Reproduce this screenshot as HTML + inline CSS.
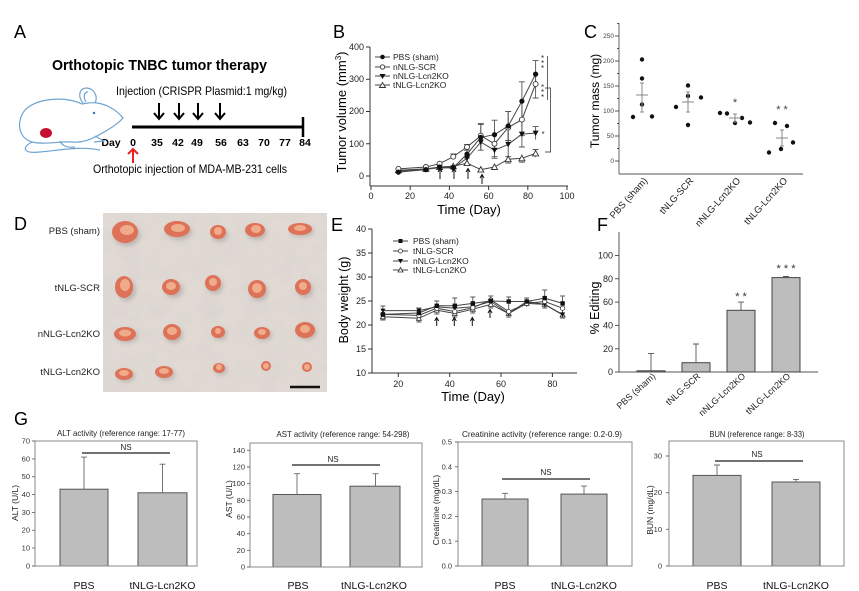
<!DOCTYPE html>
<html><head><meta charset="utf-8">
<style>
html,body{margin:0;padding:0;background:#fff;}
svg{display:block;font-family:"Liberation Sans",Arial,sans-serif;}
</style></head>
<body>
<svg width="859" height="591" viewBox="0 0 859 591" xmlns="http://www.w3.org/2000/svg">
<defs>
  <marker id="bP" markerUnits="userSpaceOnUse" markerWidth="8" markerHeight="8" refX="4" refY="4" overflow="visible"><circle cx="4" cy="4" r="2.6" fill="#111"/></marker>
  <marker id="bS" markerUnits="userSpaceOnUse" markerWidth="8" markerHeight="8" refX="4" refY="4" overflow="visible"><circle cx="4" cy="4" r="2.5" fill="#fff" stroke="#333" stroke-width="0.9"/></marker>
  <marker id="bN" markerUnits="userSpaceOnUse" markerWidth="8" markerHeight="8" refX="4" refY="4" overflow="visible"><polygon points="1,1.5 7,1.5 4,7" fill="#111"/></marker>
  <marker id="bT" markerUnits="userSpaceOnUse" markerWidth="8" markerHeight="8" refX="4" refY="4" overflow="visible"><polygon points="1,6.5 7,6.5 4,1" fill="#fff" stroke="#333" stroke-width="0.9"/></marker>
  <marker id="eP" markerUnits="userSpaceOnUse" markerWidth="6" markerHeight="6" refX="3" refY="3" overflow="visible"><rect x="0.8" y="0.8" width="4.4" height="4.4" fill="#111"/></marker>
  <marker id="eS" markerUnits="userSpaceOnUse" markerWidth="6" markerHeight="6" refX="3" refY="3" overflow="visible"><circle cx="3" cy="3" r="2.2" fill="#fff" stroke="#333" stroke-width="0.8"/></marker>
  <marker id="eN" markerUnits="userSpaceOnUse" markerWidth="6" markerHeight="6" refX="3" refY="3" overflow="visible"><polygon points="0.5,1 5.5,1 3,5.5" fill="#111"/></marker>
  <marker id="eT" markerUnits="userSpaceOnUse" markerWidth="6" markerHeight="6" refX="3" refY="3" overflow="visible"><polygon points="0.5,5 5.5,5 3,0.5" fill="#fff" stroke="#333" stroke-width="0.8"/></marker>
  <filter id="tex" x="0" y="0" width="100%" height="100%">
    <feTurbulence type="fractalNoise" baseFrequency="0.05" numOctaves="3" seed="4"/>
    <feColorMatrix type="matrix" values="0 0 0 0 0.62  0 0 0 0 0.59  0 0 0 0 0.57  0 0 0 1.4 -0.5"/>
  </filter>
  <filter id="blur2"><feGaussianBlur stdDeviation="2"/></filter>
</defs>

<!-- ============ PANEL A ============ -->
<text x="14" y="38" font-size="18">A</text>
<text x="52" y="70" font-size="15" font-weight="bold" textLength="215" lengthAdjust="spacingAndGlyphs">Orthotopic TNBC tumor therapy</text>
<text x="116" y="95" font-size="12" textLength="171" lengthAdjust="spacingAndGlyphs">Injection (CRISPR Plasmid:1 mg/kg)</text>
<g stroke="#000" stroke-width="2" fill="none">
  <line x1="159" y1="103" x2="159" y2="119"/><polyline points="154,113 159,119 164,113"/>
  <line x1="179" y1="103" x2="179" y2="119"/><polyline points="174,113 179,119 184,113"/>
  <line x1="198" y1="103" x2="198" y2="119"/><polyline points="193,113 198,119 203,113"/>
  <line x1="220" y1="103" x2="220" y2="119"/><polyline points="215,113 220,119 225,113"/>
</g>
<line x1="132" y1="127" x2="304" y2="127" stroke="#000" stroke-width="3"/>
<line x1="303" y1="117" x2="303" y2="137" stroke="#000" stroke-width="2.5"/>
<g font-size="10.5" font-weight="bold" text-anchor="middle">
  <text x="111" y="146">Day</text>
  <text x="133" y="146">0</text><text x="157" y="146">35</text><text x="178" y="146">42</text>
  <text x="197" y="146">49</text><text x="221" y="146">56</text><text x="243" y="146">63</text>
  <text x="264" y="146">70</text><text x="285" y="146">77</text><text x="305" y="146">84</text>
</g>
<g stroke="#e8231f" stroke-width="2" fill="none">
  <line x1="133" y1="163" x2="133" y2="149"/><polyline points="128,154 133,149 138,154"/>
</g>
<text x="93" y="173" font-size="12" textLength="194" lengthAdjust="spacingAndGlyphs">Orthotopic injection of MDA-MB-231 cells</text>
<!-- mouse -->
<g fill="none" stroke="#6fa4d2" stroke-width="1.2" stroke-linejoin="round">
  <path d="M123,118 C117,110 106,104 97,103 C92,102 87,103 82,104 C65,96 37,98 25,110 C16,121 18,138 32,142 C45,145 62,141 72,142 C82,143 90,140 97,136 C106,131 117,125 123,118 Z"/>
  <path d="M84,104 C77,97 79,88 87,88 C95,89 98,97 95,103"/>
  <path d="M86,102 C83,97 84,92 88,92"/>
  <path d="M32,142 C22,147 22,154 40,152 C62,150 80,146 100,150"/>
  <path d="M95,136 L104,141 L94,142"/>
  <path d="M60,141 C62,146 68,148 75,147"/>
</g>
<circle cx="94" cy="113" r="1.2" fill="#3a6fb0"/>
<ellipse cx="46" cy="133" rx="6" ry="5" fill="#c8102e"/>

<!-- ============ PANEL B ============ -->
<text x="333" y="38" font-size="18">B</text>
<g stroke="#333" stroke-width="1" fill="none">
  <line x1="370" y1="47" x2="370" y2="186"/>
  <line x1="370" y1="186" x2="568" y2="186"/>
  <path d="M366,47H370M366,79.3H370M366,111.5H370M366,143.8H370M366,176H370"/>
  <path d="M371,186V190M410.2,186V190M449.4,186V190M488.6,186V190M527.8,186V190M567,186V190"/>
</g>
<g font-size="9" fill="#222" text-anchor="end">
  <text x="364" y="50">400</text><text x="364" y="82">300</text><text x="364" y="114">200</text>
  <text x="364" y="147">100</text><text x="364" y="179">0</text>
</g>
<g font-size="9" fill="#222" text-anchor="middle">
  <text x="371" y="199">0</text><text x="410" y="199">20</text><text x="449" y="199">40</text>
  <text x="488.6" y="199">60</text><text x="528" y="199">80</text><text x="567" y="199">100</text>
</g>
<text x="469" y="214" font-size="13" text-anchor="middle">Time (Day)</text>
<text transform="translate(346,112) rotate(-90)" font-size="13" text-anchor="middle">Tumor volume (mm<tspan font-size="8" dy="-5">3</tspan><tspan dy="5">)</tspan></text>
<!-- error bars B -->
<g stroke="#555" stroke-width="0.9" fill="none">
  <path d="M467,150.2V158M464,150.2H470M464,158H470 M480.8,124.4V150.2M477.8,124.4H483.8M477.8,150.2H483.8 M494.5,120.2V149.2M491.5,120.2H497.5M491.5,149.2H497.5 M508.2,111.5V140.5M505.2,111.5H511.2M505.2,140.5H511.2 M521.9,81.8V120.6M518.9,81.8H524.9 M535.6,60.6V87.6M532.6,60.6H538.6"/>
  <path d="M453.3,154V159.5M450.3,154H456.3 M467,144.4V149.6M464,144.4H470 M480.8,123.4V148M477.8,123.4H483.8 M494.5,129.3V158.3M491.5,158.3H497.5 M508.2,111.5V143.7 M521.9,103.5V135.7M518.9,135.7H524.9 M535.6,72.8V98M532.6,98H538.6"/>
  <path d="M480.8,134V150.2 M494.5,143.7V156.7M491.5,156.7H497.5 M508.2,132.1V156.7M505.2,156.7H511.2 M521.9,121.2V147M518.9,147H524.9 M535.6,126.6V139.6M532.6,126.6H538.6"/>
  <path d="M508.2,155.3V163.1M505.2,163.1H511.2 M521.9,154.4V162.2M518.9,162.2H524.9 M535.6,149.5V157.3M532.6,149.5H538.6"/>
</g>
<g fill="none" stroke="#444" stroke-width="1">
  <polyline marker-start="url(#bT)" marker-mid="url(#bT)" marker-end="url(#bT)" points="398.4,170.2 425.9,168.9 439.6,167.0 453.3,166.3 467.0,163.1 480.8,169.6 494.5,167.0 508.2,159.2 521.9,158.3 535.6,153.4"/>
  <polyline marker-start="url(#bN)" marker-mid="url(#bN)" marker-end="url(#bN)" points="398.4,171.2 425.9,168.9 439.6,167.9 453.3,167.9 467.0,158.3 480.8,142.1 494.5,150.2 508.2,144.4 521.9,134.1 535.6,133.1"/>
  <polyline marker-start="url(#bS)" marker-mid="url(#bS)" marker-end="url(#bS)" points="398.4,168.9 425.9,167.0 439.6,163.7 453.3,156.7 467.0,147.0 480.8,135.7 494.5,143.8 508.2,127.6 521.9,119.6 535.6,84.1"/>
  <polyline marker-start="url(#bP)" marker-mid="url(#bP)" marker-end="url(#bP)" points="398.4,172.1 425.9,169.6 439.6,167.0 453.3,167.6 467.0,154.1 480.8,137.3 494.5,134.7 508.2,126.0 521.9,101.2 535.6,74.1"/>
</g>
<!-- arrows B -->
<g stroke="#111" stroke-width="1" fill="none">
  <path d="M440,179V169M438,172L440,168.5L442,172"/>
  <path d="M454,179V169M452,172L454,168.5L456,172"/>
  <path d="M468,179V169M466,172L468,168.5L470,172"/>
  <path d="M482,184V175M480,178L482,174.5L484,178"/>
</g>
<!-- significance B -->
<g stroke="#555" stroke-width="0.9" fill="none">
  <line x1="547.5" y1="56" x2="547.5" y2="100"/>
  <path d="M545,88H550.5V152H545"/>
</g>
<g font-size="8" fill="#333" text-anchor="middle">
  <text x="542.5" y="61">*</text><text x="542.5" y="66">*</text><text x="542.5" y="71">*</text>
  <text x="542.5" y="90">*</text><text x="542.5" y="95">*</text><text x="542.5" y="100">*</text>
  <text x="543" y="137">*</text>
</g>
<!-- legend B -->
<g stroke="#444" stroke-width="1">
  <line x1="375" y1="57" x2="390" y2="57"/><line x1="375" y1="67" x2="390" y2="67"/>
  <line x1="375" y1="76" x2="390" y2="76"/><line x1="375" y1="85" x2="390" y2="85"/>
</g>
<circle cx="382.5" cy="57" r="2.3" fill="#111"/>
<circle cx="382.5" cy="67" r="2.2" fill="#fff" stroke="#333" stroke-width="0.9"/>
<polygon points="379.5,74 385.5,74 382.5,79" fill="#111"/>
<polygon points="379.5,87.5 385.5,87.5 382.5,82.5" fill="#fff" stroke="#333" stroke-width="0.9"/>
<g font-size="8.5" fill="#222">
  <text x="393" y="60">PBS (sham)</text><text x="393" y="70">nNLG-SCR</text>
  <text x="393" y="79">nNLG-Lcn2KO</text><text x="393" y="88">tNLG-Lcn2KO</text>
</g>

<!-- ============ PANEL C ============ -->
<text x="584" y="38" font-size="18">C</text>
<g stroke="#555" stroke-width="0.9" fill="none">
  <line x1="619" y1="23" x2="619" y2="174"/>
  <line x1="619" y1="174" x2="803" y2="174"/>
  <path d="M615,161H619M615,136H619M615,111H619M615,86H619M615,61H619M615,36H619"/>
  <path d="M617,148.5H619M617,123.5H619M617,98.5H619M617,73.5H619M617,48.5H619M617,23.5H619"/>
</g>
<g font-size="6.5" fill="#444" text-anchor="end">
  <text x="614" y="163">0</text><text x="614" y="138">50</text><text x="614" y="113">100</text>
  <text x="614" y="88">150</text><text x="614" y="63">200</text><text x="614" y="38">250</text>
</g>
<text transform="translate(599,101) rotate(-90)" font-size="12" text-anchor="middle">Tumor mass (mg)</text>
<g fill="#111">
  <circle cx="633" cy="117" r="2.2"/><circle cx="642" cy="59.5" r="2.2"/><circle cx="642" cy="78.5" r="2.2"/><circle cx="642" cy="104.5" r="2.2"/><circle cx="652" cy="116.5" r="2.2"/>
  <circle cx="676" cy="107" r="2.2"/><circle cx="688" cy="85.5" r="2.2"/><circle cx="688" cy="96" r="2.2"/><circle cx="688" cy="125" r="2.2"/><circle cx="701" cy="97.5" r="2.2"/>
  <circle cx="720" cy="113" r="2.2"/><circle cx="727" cy="113.5" r="2.2"/><circle cx="735" cy="123" r="2.2"/><circle cx="742" cy="118" r="2.2"/><circle cx="750" cy="122.5" r="2.2"/>
  <circle cx="769" cy="152.5" r="2.2"/><circle cx="775" cy="123" r="2.2"/><circle cx="781" cy="149" r="2.2"/><circle cx="787" cy="126" r="2.2"/><circle cx="793" cy="142.5" r="2.2"/>
</g>
<g stroke="#888" stroke-width="1" fill="none">
  <path d="M636,95H648M642,83V112M640,83H644M640,112H644"/>
  <path d="M682,102H694M688,92V112M686,92H690M686,112H690"/>
  <path d="M729,118H741M735,114V122M733,114H737M733,122H737"/>
  <path d="M776,138H788M782,130V146M780,130H784M780,146H784"/>
</g>
<g font-size="11" fill="#444" text-anchor="middle">
  <text x="735" y="106">*</text><text x="782" y="113">* *</text>
</g>
<g font-size="9.5" fill="#222" text-anchor="end">
  <text transform="translate(648,181) rotate(-48)">PBS (sham)</text>
  <text transform="translate(694,181) rotate(-48)">tNLG-SCR</text>
  <text transform="translate(741,181) rotate(-48)">nNLG-Lcn2KO</text>
  <text transform="translate(788,181) rotate(-48)">tNLG-Lcn2KO</text>
</g>

<!-- ============ PANEL D ============ -->
<text x="14" y="230" font-size="18">D</text>
<g font-size="9.5" fill="#222" text-anchor="end">
  <text x="100" y="234">PBS (sham)</text>
  <text x="100" y="291">tNLG-SCR</text>
  <text x="100" y="337">nNLG-Lcn2KO</text>
  <text x="100" y="375">tNLG-Lcn2KO</text>
</g>
<rect x="103" y="213" width="224" height="179" fill="#e0d9d4"/>
<rect x="103" y="213" width="224" height="179" filter="url(#tex)" opacity="0.35"/>
<g filter="url(#blur2)" fill="#8c837e" opacity="0.4">
  <ellipse cx="127" cy="235" rx="13" ry="11"/><ellipse cx="179" cy="232" rx="13" ry="8"/><ellipse cx="220" cy="235" rx="8" ry="7"/><ellipse cx="257" cy="233" rx="10" ry="7"/><ellipse cx="302" cy="231" rx="12" ry="6"/>
  <ellipse cx="127" cy="290" rx="9" ry="11"/><ellipse cx="174" cy="290" rx="9" ry="8"/><ellipse cx="215" cy="286" rx="8" ry="8"/><ellipse cx="259" cy="292" rx="9" ry="9"/><ellipse cx="305" cy="290" rx="8" ry="8"/>
  <ellipse cx="127" cy="336" rx="11" ry="7"/><ellipse cx="174" cy="335" rx="9" ry="8"/><ellipse cx="220" cy="334" rx="7" ry="6"/><ellipse cx="264" cy="335" rx="8" ry="6"/><ellipse cx="307" cy="332" rx="10" ry="8"/>
  <ellipse cx="126" cy="376" rx="9" ry="6"/><ellipse cx="166" cy="374" rx="9" ry="6"/><ellipse cx="221" cy="370" rx="6" ry="5"/>
</g>
<g fill="#de7258">
  <ellipse cx="125" cy="232" rx="13" ry="11"/><ellipse cx="177" cy="229" rx="13" ry="8"/><ellipse cx="218" cy="232" rx="8" ry="7"/><ellipse cx="255" cy="230" rx="10" ry="7"/><ellipse cx="300" cy="229" rx="12" ry="6"/>
  <ellipse cx="124" cy="287" rx="9" ry="11"/><ellipse cx="171" cy="287" rx="9" ry="8"/><ellipse cx="213" cy="283" rx="8" ry="8"/><ellipse cx="257" cy="289" rx="9" ry="9"/><ellipse cx="303" cy="287" rx="8" ry="8"/>
  <ellipse cx="125" cy="334" rx="11" ry="7"/><ellipse cx="172" cy="332" rx="9" ry="8"/><ellipse cx="218" cy="332" rx="7" ry="6"/><ellipse cx="262" cy="333" rx="8" ry="6"/><ellipse cx="305" cy="330" rx="10" ry="8"/>
  <ellipse cx="124" cy="374" rx="9" ry="6"/><ellipse cx="164" cy="372" rx="9" ry="6"/><ellipse cx="219" cy="368" rx="6" ry="5"/><ellipse cx="266" cy="366" rx="5" ry="5"/><ellipse cx="307" cy="367" rx="5" ry="5"/>
</g>
<g fill="#f4b595" opacity="0.85">
  <ellipse cx="127" cy="230" rx="7" ry="5"/><ellipse cx="178" cy="228" rx="7" ry="4"/><ellipse cx="218" cy="231" rx="4" ry="4"/><ellipse cx="256" cy="229" rx="5" ry="4"/><ellipse cx="300" cy="228" rx="6" ry="3"/>
  <ellipse cx="125" cy="285" rx="5" ry="6"/><ellipse cx="171" cy="286" rx="5" ry="4"/><ellipse cx="213" cy="282" rx="4" ry="4"/><ellipse cx="257" cy="288" rx="5" ry="5"/><ellipse cx="303" cy="286" rx="4" ry="4"/>
  <ellipse cx="125" cy="333" rx="6" ry="3.5"/><ellipse cx="172" cy="331" rx="5" ry="4"/><ellipse cx="218" cy="331" rx="3" ry="3"/><ellipse cx="262" cy="332" rx="4" ry="3"/><ellipse cx="305" cy="329" rx="5" ry="4"/>
  <ellipse cx="124" cy="373" rx="5" ry="3"/><ellipse cx="164" cy="371" rx="5" ry="3"/><ellipse cx="219" cy="367" rx="3" ry="3"/><ellipse cx="266" cy="366" rx="3" ry="3"/><ellipse cx="307" cy="367" rx="3" ry="3"/>
</g>
<line x1="290" y1="387" x2="320" y2="387" stroke="#111" stroke-width="2.5"/>

<!-- ============ PANEL E ============ -->
<text x="331" y="231" font-size="18">E</text>
<g stroke="#333" stroke-width="1" fill="none">
  <line x1="372" y1="229" x2="372" y2="373"/>
  <line x1="372" y1="373" x2="577" y2="373"/>
  <path d="M368,229H372M368,253H372M368,277H372M368,301H372M368,325H372M368,349H372M368,373H372"/>
  <path d="M398.3,373V377M449.7,373V377M501,373V377M552.4,373V377"/>
</g>
<g font-size="9" fill="#222" text-anchor="end">
  <text x="366" y="232">40</text><text x="366" y="256">35</text><text x="366" y="280">30</text>
  <text x="366" y="304">25</text><text x="366" y="328">20</text><text x="366" y="352">15</text><text x="366" y="376">10</text>
</g>
<g font-size="9" fill="#222" text-anchor="middle">
  <text x="398.3" y="387">20</text><text x="449.7" y="387">40</text><text x="501" y="387">60</text><text x="552.4" y="387">80</text>
</g>
<text x="473" y="401" font-size="13" text-anchor="middle">Time (Day)</text>
<text transform="translate(348,300) rotate(-90)" font-size="12.5" text-anchor="middle">Body weight (g)</text>
<g stroke="#555" stroke-width="0.9" fill="none">
  <path d="M382.9,306V320M380.4,306H385.4M380.4,320H385.4 M418.9,308V322M416.4,308H421.4M416.4,322H421.4 M436.8,301V314M434.3,301H439.3M434.3,314H439.3 M454.8,298V317M452.3,298H457.3M452.3,317H457.3 M472.8,297V313M470.3,297H475.3M470.3,313H475.3 M490.8,296V308M488.3,296H493.3M488.3,308H493.3 M508.7,297V317M506.2,297H511.2M506.2,317H511.2 M526.7,298V307M524.2,298H529.2 M544.7,290V308M542.2,290H547.2M542.2,308H547.2 M562.6,296V318M560.1,296H565.1M560.1,318H565.1"/>
</g>
<g fill="none" stroke="#444" stroke-width="1">
  <polyline marker-start="url(#eT)" marker-mid="url(#eT)" marker-end="url(#eT)" points="382.9,316.8 418.9,318.3 436.8,310.1 454.8,313.5 472.8,309.2 490.8,304.4 508.7,313.5 526.7,303.4 544.7,304.4 562.6,314.9"/>
  <polyline marker-start="url(#eN)" marker-mid="url(#eN)" marker-end="url(#eN)" points="382.9,310.6 418.9,310.6 436.8,306.8 454.8,308.2 472.8,306.8 490.8,301.5 508.7,313.5 526.7,301.5 544.7,304.4 562.6,314.4"/>
  <polyline marker-start="url(#eS)" marker-mid="url(#eS)" marker-end="url(#eS)" points="382.9,314.4 418.9,315.4 436.8,308.2 454.8,311.6 472.8,307.7 490.8,300 508.7,311.6 526.7,303.4 544.7,301.5 562.6,308.2"/>
  <polyline marker-start="url(#eP)" marker-mid="url(#eP)" marker-end="url(#eP)" points="382.9,314.4 418.9,313 436.8,305.8 454.8,305.8 472.8,303.4 490.8,301 508.7,301.5 526.7,301.5 544.7,298.1 562.6,303.4"/>
</g>
<g stroke="#111" stroke-width="1" fill="none">
  <path d="M436.7,326V318M434.7,321L436.7,317.5L438.7,321"/>
  <path d="M454.3,326V318M452.3,321L454.3,317.5L456.3,321"/>
  <path d="M472.3,326V318M470.3,321L472.3,317.5L474.3,321"/>
  <path d="M490,318V310M488,313L490,309.5L492,313"/>
</g>
<g stroke="#444" stroke-width="1">
  <line x1="393" y1="241" x2="408" y2="241"/><line x1="393" y1="251" x2="408" y2="251"/>
  <line x1="393" y1="261" x2="408" y2="261"/><line x1="393" y1="270" x2="408" y2="270"/>
</g>
<rect x="398.5" y="239" width="4" height="4" fill="#111"/>
<circle cx="400.5" cy="251" r="2" fill="#fff" stroke="#333" stroke-width="0.8"/>
<polygon points="398,259 403,259 400.5,263.5" fill="#111"/>
<polygon points="398,272 403,272 400.5,267.5" fill="#fff" stroke="#333" stroke-width="0.8"/>
<g font-size="8.5" fill="#222">
  <text x="413" y="244">PBS (sham)</text><text x="413" y="254">tNLG-SCR</text>
  <text x="413" y="264">nNLG-Lcn2KO</text><text x="413" y="273">tNLG-Lcn2KO</text>
</g>

<!-- ============ PANEL F ============ -->
<text x="597" y="231" font-size="18">F</text>
<g stroke="#555" stroke-width="1" fill="none">
  <line x1="619" y1="232" x2="619" y2="372"/>
  <line x1="619" y1="372" x2="818" y2="372"/>
  <path d="M615,372H619M615,348.7H619M615,325.4H619M615,302.1H619M615,278.8H619M615,255.5H619"/>
</g>
<g font-size="9" fill="#222" text-anchor="end">
  <text x="613" y="375">0</text><text x="613" y="352">20</text><text x="613" y="328.5">40</text>
  <text x="613" y="305">60</text><text x="613" y="282">80</text><text x="613" y="258.5">100</text>
</g>
<text transform="translate(599,308) rotate(-90)" font-size="12.5" text-anchor="middle">% Editing</text>
<g fill="#bdbdbd" stroke="#444" stroke-width="1">
  <rect x="637" y="370.8" width="28" height="1.2"/>
  <rect x="682" y="362.7" width="28" height="9.3"/>
  <rect x="727" y="310.3" width="28" height="61.7"/>
  <rect x="772" y="277.6" width="28" height="94.4"/>
</g>
<g stroke="#555" stroke-width="0.9" fill="none">
  <path d="M651,370.8V353.4M648,353.4H654"/>
  <path d="M696,362.7V344M693,344H699"/>
  <path d="M741,310.3V302.1M738,302.1H744"/>
  <path d="M786,277.6V276.5M783,276.5H789"/>
</g>
<g font-size="11" fill="#333" text-anchor="middle">
  <text x="741" y="300">* *</text><text x="786" y="272">* * *</text>
</g>
<g font-size="9" fill="#222" text-anchor="end">
  <text transform="translate(656,377) rotate(-42)">PBS (sham)</text>
  <text transform="translate(701,377) rotate(-42)">tNLG-SCR</text>
  <text transform="translate(746,377) rotate(-42)">nNLG-Lcn2KO</text>
  <text transform="translate(791,377) rotate(-42)">tNLG-Lcn2KO</text>
</g>

<!-- ============ PANEL G ============ -->
<text x="14" y="425" font-size="18">G</text>

<!-- G1 ALT -->
<text x="121" y="436" font-size="8.5" fill="#222" text-anchor="middle" textLength="128" lengthAdjust="spacingAndGlyphs">ALT activity (reference range: 17-77)</text>
<g fill="#bdbdbd" stroke="#555" stroke-width="1">
  <rect x="60" y="489.2" width="48" height="76.8"/>
  <rect x="138" y="492.8" width="49" height="73.2"/>
</g>
<rect x="35" y="441" width="162" height="125" fill="none" stroke="#888" stroke-width="1"/>
<g stroke="#666" stroke-width="0.9" fill="none">
  <path d="M32,441H35M32,458.9H35M32,476.7H35M32,494.6H35M32,512.4H35M32,530.3H35M32,548.1H35M32,566H35"/>
  <path d="M84,489.2V457.1M81,457.1H87 M162.5,492.8V464.2M159.5,464.2H165.5"/>
</g>
<line x1="82" y1="453" x2="170" y2="453" stroke="#444" stroke-width="1.5"/>
<text x="126" y="450" font-size="8" text-anchor="middle" fill="#222">NS</text>
<g font-size="7.5" fill="#333" text-anchor="end">
  <text x="30" y="443.5">70</text><text x="30" y="461.5">60</text><text x="30" y="479">50</text><text x="30" y="497">40</text>
  <text x="30" y="515">30</text><text x="30" y="532.5">20</text><text x="30" y="550.5">10</text><text x="30" y="568.5">0</text>
</g>
<text transform="translate(18,503) rotate(-90)" font-size="8.5" fill="#222" text-anchor="middle">ALT (U/L)</text>
<g font-size="10.5" fill="#111" text-anchor="middle">
  <text x="84" y="589">PBS</text><text x="162.5" y="589">tNLG-Lcn2KO</text>
</g>

<!-- G2 AST -->
<text x="343" y="437" font-size="8.5" fill="#222" text-anchor="middle" textLength="133" lengthAdjust="spacingAndGlyphs">AST activity (reference range: 54-298)</text>
<g fill="#bdbdbd" stroke="#555" stroke-width="1">
  <rect x="273" y="494.5" width="48" height="72.5"/>
  <rect x="350" y="486.2" width="50" height="80.8"/>
</g>
<rect x="250" y="443" width="172" height="124" fill="none" stroke="#888" stroke-width="1"/>
<g stroke="#666" stroke-width="0.9" fill="none">
  <path d="M247,450.3H250M247,467H250M247,483.7H250M247,500.3H250M247,517H250M247,533.7H250M247,550.3H250M247,567H250"/>
  <path d="M297,494.5V473.7M294,473.7H300 M375.5,486.2V473.7M372.5,473.7H378.5"/>
</g>
<line x1="292" y1="465" x2="380" y2="465" stroke="#444" stroke-width="1.5"/>
<text x="333" y="462" font-size="8" text-anchor="middle" fill="#222">NS</text>
<g font-size="7.5" fill="#333" text-anchor="end">
  <text x="245" y="453">140</text><text x="245" y="469.5">120</text><text x="245" y="486">100</text><text x="245" y="503">80</text>
  <text x="245" y="519.5">60</text><text x="245" y="536">40</text><text x="245" y="553">20</text><text x="245" y="569.5">0</text>
</g>
<text transform="translate(232,499) rotate(-90)" font-size="8.5" fill="#222" text-anchor="middle">AST (U/L)</text>
<g font-size="10.5" fill="#111" text-anchor="middle">
  <text x="298" y="589">PBS</text><text x="374" y="589">tNLG-Lcn2KO</text>
</g>

<!-- G3 Creatinine -->
<text x="542" y="437" font-size="8.5" fill="#222" text-anchor="middle" textLength="160" lengthAdjust="spacingAndGlyphs">Creatinine activity (reference range: 0.2-0.9)</text>
<g fill="#bdbdbd" stroke="#555" stroke-width="1">
  <rect x="482" y="499" width="46" height="67"/>
  <rect x="561" y="494.1" width="46" height="71.9"/>
</g>
<rect x="458" y="442" width="174" height="124" fill="none" stroke="#888" stroke-width="1"/>
<g stroke="#666" stroke-width="0.9" fill="none">
  <path d="M455,442H458M455,466.8H458M455,491.6H458M455,516.4H458M455,541.2H458M455,566H458"/>
  <path d="M505,499V493.3M502,493.3H508 M584,494.1V486.1M581,486.1H587"/>
</g>
<line x1="502" y1="479" x2="590" y2="479" stroke="#444" stroke-width="1.5"/>
<text x="546" y="475" font-size="8" text-anchor="middle" fill="#222">NS</text>
<g font-size="7.5" fill="#333" text-anchor="end">
  <text x="452" y="444.5">0.5</text><text x="452" y="469.5">0.4</text><text x="452" y="494">0.3</text>
  <text x="452" y="519">0.2</text><text x="452" y="544">0.1</text><text x="452" y="568.5">0.0</text>
</g>
<text transform="translate(439,510) rotate(-90)" font-size="8.5" fill="#222" text-anchor="middle">Creatinine (mg/dL)</text>
<g font-size="10.5" fill="#111" text-anchor="middle">
  <text x="505" y="589">PBS</text><text x="584" y="589">tNLG-Lcn2KO</text>
</g>

<!-- G4 BUN -->
<text x="757" y="437" font-size="8.5" fill="#222" text-anchor="middle" textLength="95" lengthAdjust="spacingAndGlyphs">BUN (reference range: 8-33)</text>
<g fill="#bdbdbd" stroke="#555" stroke-width="1">
  <rect x="693" y="475.4" width="48" height="90.6"/>
  <rect x="772" y="482" width="48" height="84"/>
</g>
<rect x="669" y="441" width="175" height="125" fill="none" stroke="#888" stroke-width="1"/>
<g stroke="#666" stroke-width="0.9" fill="none">
  <path d="M666,456H669M666,492.7H669M666,529.3H669M666,566H669"/>
  <path d="M717,475.4V465M714,465H720 M796,482V479.4M793,479.4H799"/>
</g>
<line x1="715" y1="461" x2="803" y2="461" stroke="#444" stroke-width="1.5"/>
<text x="757" y="457" font-size="8" text-anchor="middle" fill="#222">NS</text>
<g font-size="7.5" fill="#333" text-anchor="end">
  <text x="662" y="458.5">30</text><text x="662" y="495">20</text><text x="662" y="532">10</text><text x="662" y="568.5">0</text>
</g>
<text transform="translate(653,510) rotate(-90)" font-size="8.5" fill="#222" text-anchor="middle">BUN (mg/dL)</text>
<g font-size="10.5" fill="#111" text-anchor="middle">
  <text x="717" y="589">PBS</text><text x="796" y="589">tNLG-Lcn2KO</text>
</g>
</svg>
</body></html>
